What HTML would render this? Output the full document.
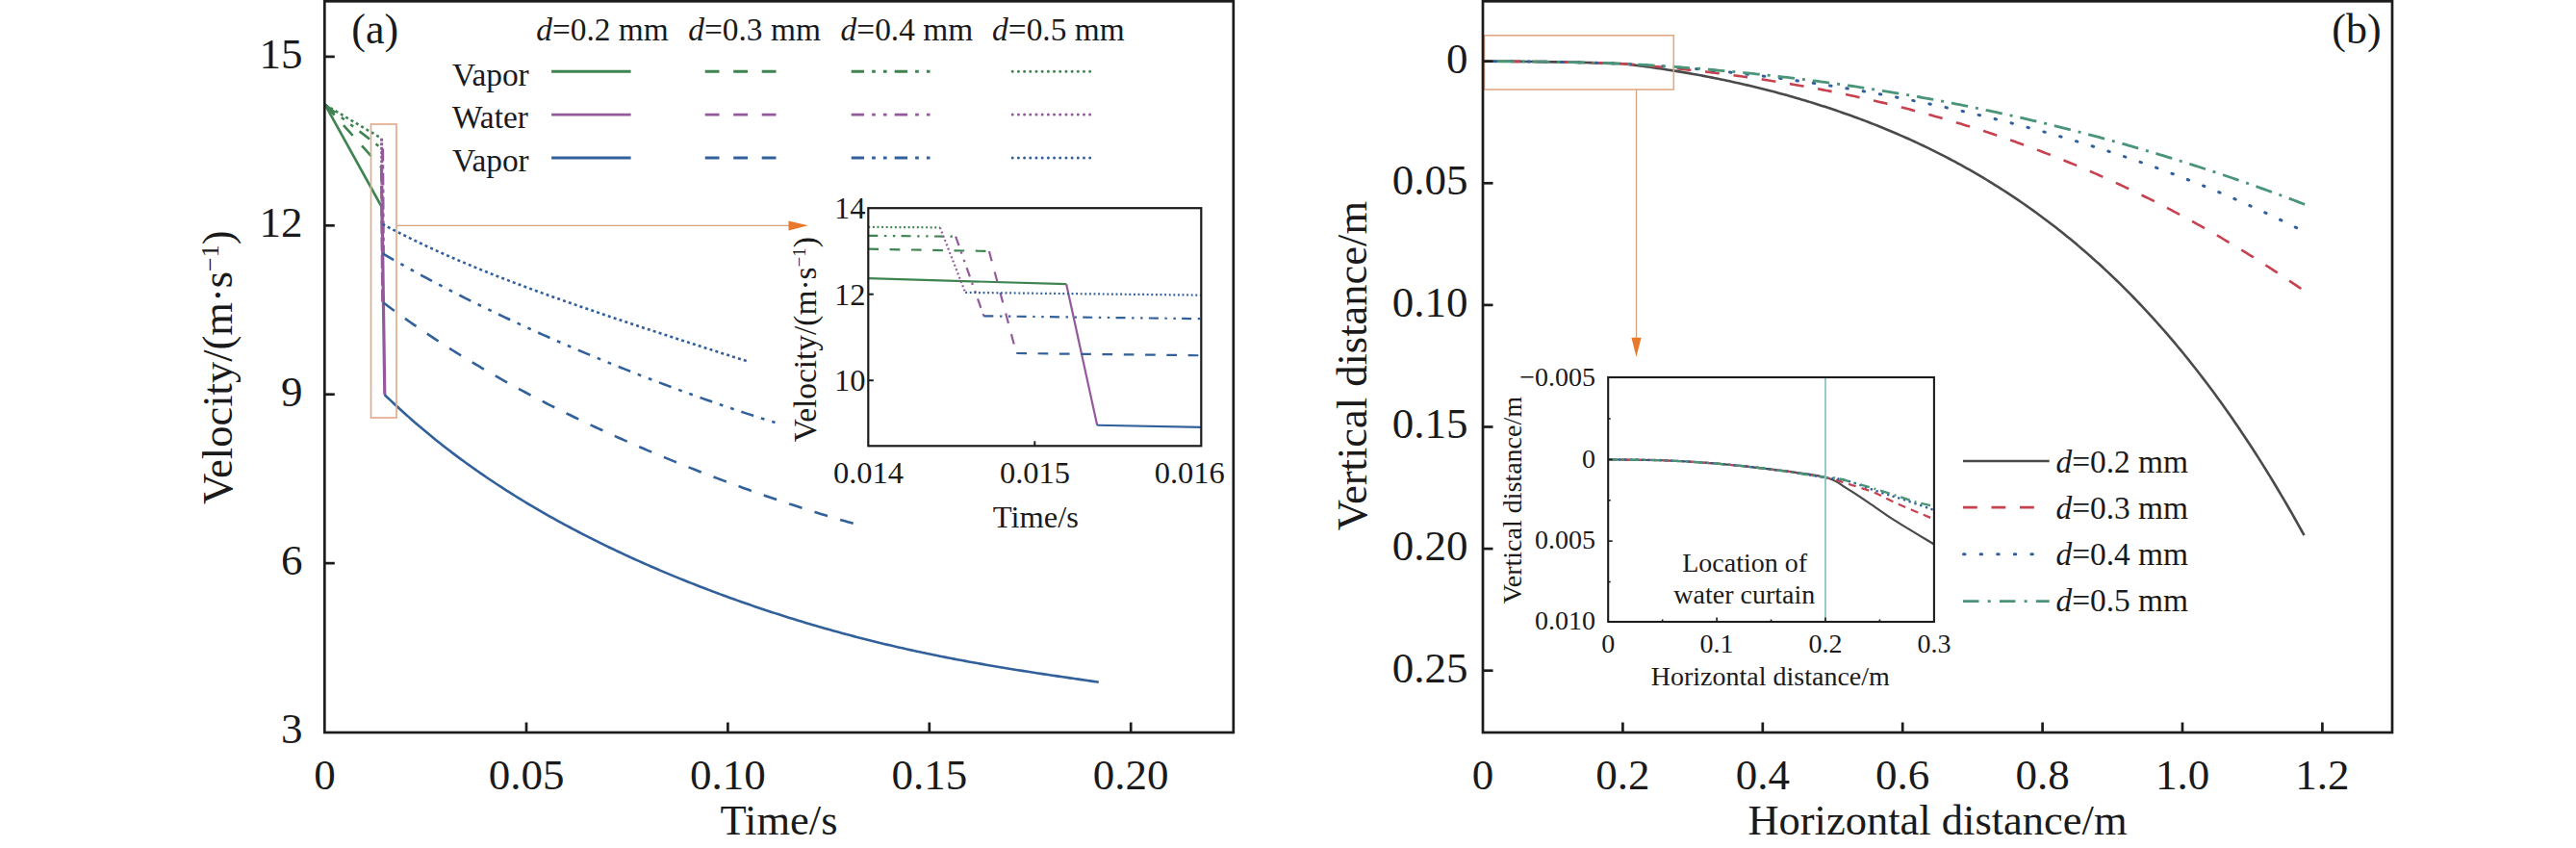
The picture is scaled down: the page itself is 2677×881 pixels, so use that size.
<!DOCTYPE html>
<html><head><meta charset="utf-8"><title>Figure</title>
<style>
html,body{margin:0;padding:0;background:#fff;}
body{width:2677px;height:881px;overflow:hidden;}
svg{display:block;}
svg text{font-family:'Liberation Serif','Times New Roman',serif;fill:#1a1a1a;}
</style></head><body>
<svg width="2677" height="881" viewBox="0 0 2677 881">
<rect width="2677" height="881" fill="#fff"/>
<path d="M337.9,108.9 L397,215.5" fill="none" stroke="#3f8450" stroke-width="2.6" stroke-linecap="butt" stroke-linejoin="round" />
<path d="M337.9,108.9 L397.2,174.8" fill="none" stroke="#3f8450" stroke-width="2.6" stroke-linecap="butt" stroke-linejoin="round" stroke-dasharray="14.5 14" />
<path d="M337.9,108.9 L397.2,154.6" fill="none" stroke="#3f8450" stroke-width="2.6" stroke-linecap="butt" stroke-linejoin="round" stroke-dasharray="13.3 8.1 3.7 8.1 3.7 8.1" />
<path d="M337.9,108.9 L396.6,143.8" fill="none" stroke="#3f8450" stroke-width="2.6" stroke-linecap="butt" stroke-linejoin="round" stroke-dasharray="3 3.2" />
<path d="M397,215.5 L399.8,409.7" fill="none" stroke="#93599b" stroke-width="3.2" stroke-linecap="butt" stroke-linejoin="round" />
<path d="M396.4,174.8 L397.6,313.5" fill="none" stroke="#93599b" stroke-width="3" stroke-linecap="butt" stroke-linejoin="round" stroke-dasharray="14 4" />
<path d="M397.6,154.6 L398.4,263.4" fill="none" stroke="#93599b" stroke-width="3" stroke-linecap="butt" stroke-linejoin="round" stroke-dasharray="13 4 4 4" />
<path d="M396.6,143.8 L397.2,232.8" fill="none" stroke="#93599b" stroke-width="3" stroke-linecap="butt" stroke-linejoin="round" stroke-dasharray="3 1.5" />
<path d="M399.8,409.7 L400.3,410.7 L403.3,413.58 L406.3,416.43 L409.31,419.25 L412.31,422.04 L415.31,424.79 L418.31,427.52 L421.31,430.22 L424.32,432.9 L427.32,435.54 L430.32,438.16 L433.32,440.75 L436.32,443.31 L439.33,445.85 L442.33,448.36 L445.33,450.84 L448.33,453.3 L451.33,455.74 L454.34,458.15 L457.34,460.53 L460.34,462.9 L463.34,465.24 L466.34,467.55 L469.35,469.85 L472.35,472.12 L475.35,474.37 L478.35,476.6 L481.35,478.81 L484.36,480.99 L487.36,483.16 L490.36,485.3 L493.36,487.43 L496.36,489.53 L499.37,491.62 L502.37,493.68 L505.37,495.73 L508.37,497.76 L511.37,499.77 L514.38,501.76 L517.38,503.74 L520.38,505.7 L523.38,507.64 L526.39,509.56 L529.39,511.47 L532.39,513.36 L535.39,515.23 L538.39,517.09 L541.4,518.93 L544.4,520.75 L547.4,522.56 L550.4,524.36 L553.4,526.14 L556.41,527.91 L559.41,529.66 L562.41,531.39 L565.41,533.12 L568.41,534.83 L571.42,536.52 L574.42,538.2 L577.42,539.87 L580.42,541.53 L583.42,543.17 L586.43,544.8 L589.43,546.41 L592.43,548.02 L595.43,549.61 L598.43,551.19 L601.44,552.76 L604.44,554.31 L607.44,555.86 L610.44,557.39 L613.44,558.91 L616.45,560.42 L619.45,561.92 L622.45,563.41 L625.45,564.89 L628.45,566.35 L631.46,567.81 L634.46,569.25 L637.46,570.69 L640.46,572.11 L643.46,573.53 L646.47,574.93 L649.47,576.33 L652.47,577.71 L655.47,579.09 L658.47,580.45 L661.48,581.81 L664.48,583.16 L667.48,584.5 L670.48,585.82 L673.48,587.14 L676.49,588.45 L679.49,589.75 L682.49,591.05 L685.49,592.33 L688.49,593.61 L691.5,594.87 L694.5,596.13 L697.5,597.38 L700.5,598.62 L703.5,599.85 L706.51,601.08 L709.51,602.29 L712.51,603.5 L715.51,604.7 L718.51,605.89 L721.52,607.07 L724.52,608.25 L727.52,609.42 L730.52,610.58 L733.52,611.73 L736.53,612.87 L739.53,614.01 L742.53,615.14 L745.53,616.26 L748.53,617.37 L751.54,618.48 L754.54,619.58 L757.54,620.67 L760.54,621.75 L763.54,622.83 L766.55,623.89 L769.55,624.96 L772.55,626.01 L775.55,627.06 L778.56,628.1 L781.56,629.13 L784.56,630.15 L787.56,631.17 L790.56,632.18 L793.57,633.19 L796.57,634.18 L799.57,635.17 L802.57,636.15 L805.57,637.13 L808.58,638.1 L811.58,639.06 L814.58,640.01 L817.58,640.96 L820.58,641.9 L823.59,642.84 L826.59,643.76 L829.59,644.68 L832.59,645.59 L835.59,646.5 L838.6,647.4 L841.6,648.29 L844.6,649.18 L847.6,650.06 L850.6,650.93 L853.61,651.79 L856.61,652.65 L859.61,653.5 L862.61,654.35 L865.61,655.19 L868.62,656.02 L871.62,656.84 L874.62,657.66 L877.62,658.47 L880.62,659.28 L883.63,660.08 L886.63,660.87 L889.63,661.65 L892.63,662.43 L895.63,663.2 L898.64,663.97 L901.64,664.73 L904.64,665.48 L907.64,666.23 L910.64,666.97 L913.65,667.7 L916.65,668.43 L919.65,669.15 L922.65,669.86 L925.65,670.57 L928.66,671.27 L931.66,671.97 L934.66,672.66 L937.66,673.34 L940.66,674.02 L943.67,674.69 L946.67,675.36 L949.67,676.02 L952.67,676.67 L955.67,677.32 L958.68,677.96 L961.68,678.59 L964.68,679.22 L967.68,679.85 L970.68,680.47 L973.69,681.08 L976.69,681.68 L979.69,682.29 L982.69,682.88 L985.69,683.47 L988.7,684.06 L991.7,684.64 L994.7,685.21 L997.7,685.78 L1000.7,686.34 L1003.71,686.9 L1006.71,687.45 L1009.71,688 L1012.71,688.55 L1015.71,689.09 L1018.72,689.62 L1021.72,690.15 L1024.72,690.67 L1027.72,691.19 L1030.73,691.71 L1033.73,692.22 L1036.73,692.73 L1039.73,693.23 L1042.73,693.73 L1045.74,694.23 L1048.74,694.72 L1051.74,695.2 L1054.74,695.69 L1057.74,696.17 L1060.75,696.65 L1063.75,697.12 L1066.75,697.59 L1069.75,698.06 L1072.75,698.52 L1075.76,698.98 L1078.76,699.44 L1081.76,699.9 L1084.76,700.35 L1087.76,700.8 L1090.77,701.25 L1093.77,701.7 L1096.77,702.14 L1099.77,702.59 L1102.77,703.03 L1105.78,703.47 L1108.78,703.91 L1111.78,704.35 L1114.78,704.78 L1117.78,705.22 L1120.79,705.66 L1123.79,706.09 L1126.79,706.53 L1129.79,706.96 L1132.79,707.4 L1135.8,707.84 L1138.8,708.27 L1141.8,708.71" fill="none" stroke="#31609a" stroke-width="2.6" stroke-linecap="butt" stroke-linejoin="round" />
<path d="M398.5,314.5 L401.52,316.76 L404.53,319 L407.55,321.23 L410.56,323.44 L413.58,325.63 L416.59,327.8 L419.61,329.96 L422.62,332.1 L425.64,334.22 L428.65,336.33 L431.67,338.42 L434.69,340.5 L437.7,342.55 L440.72,344.6 L443.73,346.63 L446.75,348.64 L449.76,350.64 L452.78,352.62 L455.79,354.59 L458.81,356.55 L461.82,358.49 L464.84,360.42 L467.85,362.33 L470.87,364.23 L473.89,366.11 L476.9,367.99 L479.92,369.85 L482.93,371.69 L485.95,373.53 L488.96,375.35 L491.98,377.16 L494.99,378.95 L498.01,380.74 L501.02,382.51 L504.04,384.27 L507.06,386.02 L510.07,387.75 L513.09,389.48 L516.1,391.19 L519.12,392.9 L522.13,394.59 L525.15,396.27 L528.16,397.94 L531.18,399.6 L534.19,401.25 L537.21,402.89 L540.23,404.52 L543.24,406.14 L546.26,407.75 L549.27,409.35 L552.29,410.94 L555.3,412.52 L558.32,414.09 L561.33,415.65 L564.35,417.21 L567.36,418.75 L570.38,420.29 L573.4,421.81 L576.41,423.33 L579.43,424.84 L582.44,426.34 L585.46,427.83 L588.47,429.31 L591.49,430.79 L594.5,432.25 L597.52,433.71 L600.53,435.16 L603.55,436.61 L606.56,438.04 L609.58,439.47 L612.6,440.89 L615.61,442.31 L618.63,443.71 L621.64,445.11 L624.66,446.5 L627.67,447.88 L630.69,449.26 L633.7,450.63 L636.72,451.99 L639.73,453.35 L642.75,454.7 L645.77,456.04 L648.78,457.38 L651.8,458.71 L654.81,460.03 L657.83,461.34 L660.84,462.65 L663.86,463.96 L666.87,465.25 L669.89,466.55 L672.9,467.83 L675.92,469.11 L678.94,470.38 L681.95,471.65 L684.97,472.91 L687.98,474.16 L691,475.41 L694.01,476.65 L697.03,477.89 L700.04,479.12 L703.06,480.34 L706.07,481.56 L709.09,482.77 L712.1,483.98 L715.12,485.18 L718.14,486.37 L721.15,487.56 L724.17,488.75 L727.18,489.93 L730.2,491.1 L733.21,492.27 L736.23,493.43 L739.24,494.58 L742.26,495.73 L745.27,496.88 L748.29,498.01 L751.31,499.15 L754.32,500.27 L757.34,501.4 L760.35,502.51 L763.37,503.62 L766.38,504.73 L769.4,505.83 L772.41,506.92 L775.43,508.01 L778.44,509.09 L781.46,510.16 L784.48,511.23 L787.49,512.3 L790.51,513.36 L793.52,514.41 L796.54,515.46 L799.55,516.5 L802.57,517.53 L805.58,518.56 L808.6,519.58 L811.61,520.6 L814.63,521.61 L817.65,522.61 L820.66,523.61 L823.68,524.6 L826.69,525.59 L829.71,526.57 L832.72,527.54 L835.74,528.51 L838.75,529.47 L841.77,530.42 L844.78,531.37 L847.8,532.31 L850.81,533.24 L853.83,534.17 L856.85,535.09 L859.86,536 L862.88,536.9 L865.89,537.8 L868.91,538.69 L871.92,539.58 L874.94,540.45 L877.95,541.32 L880.97,542.19 L883.98,543.04 L887,543.89" fill="none" stroke="#31609a" stroke-width="2.6" stroke-linecap="butt" stroke-linejoin="round" stroke-dasharray="14.14 13.65" />
<path d="M397.6,263.4 L400.62,265.15 L403.64,266.89 L406.66,268.63 L409.69,270.35 L412.71,272.06 L415.73,273.77 L418.75,275.46 L421.77,277.15 L424.79,278.82 L427.81,280.49 L430.84,282.15 L433.86,283.79 L436.88,285.43 L439.9,287.07 L442.92,288.69 L445.94,290.3 L448.97,291.91 L451.99,293.51 L455.01,295.1 L458.03,296.68 L461.05,298.25 L464.07,299.82 L467.09,301.37 L470.12,302.92 L473.14,304.47 L476.16,306 L479.18,307.53 L482.2,309.05 L485.22,310.56 L488.24,312.07 L491.27,313.57 L494.29,315.06 L497.31,316.54 L500.33,318.02 L503.35,319.49 L506.37,320.95 L509.39,322.41 L512.42,323.86 L515.44,325.31 L518.46,326.74 L521.48,328.17 L524.5,329.6 L527.52,331.02 L530.55,332.43 L533.57,333.83 L536.59,335.23 L539.61,336.63 L542.63,338.02 L545.65,339.4 L548.67,340.77 L551.7,342.14 L554.72,343.51 L557.74,344.87 L560.76,346.22 L563.78,347.57 L566.8,348.91 L569.82,350.25 L572.85,351.58 L575.87,352.9 L578.89,354.22 L581.91,355.54 L584.93,356.85 L587.95,358.15 L590.97,359.45 L594,360.74 L597.02,362.03 L600.04,363.31 L603.06,364.59 L606.08,365.86 L609.1,367.13 L612.13,368.39 L615.15,369.65 L618.17,370.9 L621.19,372.15 L624.21,373.4 L627.23,374.63 L630.25,375.87 L633.28,377.1 L636.3,378.32 L639.32,379.54 L642.34,380.75 L645.36,381.96 L648.38,383.16 L651.4,384.36 L654.43,385.56 L657.45,386.75 L660.47,387.93 L663.49,389.11 L666.51,390.29 L669.53,391.46 L672.55,392.63 L675.58,393.79 L678.6,394.94 L681.62,396.09 L684.64,397.24 L687.66,398.38 L690.68,399.52 L693.71,400.65 L696.73,401.78 L699.75,402.91 L702.77,404.02 L705.79,405.14 L708.81,406.25 L711.83,407.35 L714.86,408.45 L717.88,409.54 L720.9,410.63 L723.92,411.72 L726.94,412.8 L729.96,413.87 L732.98,414.94 L736.01,416.01 L739.03,417.06 L742.05,418.12 L745.07,419.17 L748.09,420.21 L751.11,421.25 L754.13,422.29 L757.16,423.31 L760.18,424.34 L763.2,425.36 L766.22,426.37 L769.24,427.38 L772.26,428.38 L775.29,429.38 L778.31,430.37 L781.33,431.35 L784.35,432.33 L787.37,433.31 L790.39,434.28 L793.41,435.24 L796.44,436.2 L799.46,437.15 L802.48,438.09 L805.5,439.03" fill="none" stroke="#31609a" stroke-width="2.6" stroke-linecap="butt" stroke-linejoin="round" stroke-dasharray="13.4 8.16 3.73 8.16 3.73 8.16" />
<path d="M397.4,232.8 L400.4,234.4 L403.41,235.99 L406.41,237.56 L409.41,239.12 L412.42,240.66 L415.42,242.19 L418.42,243.7 L421.43,245.2 L424.43,246.69 L427.43,248.16 L430.43,249.62 L433.44,251.07 L436.44,252.5 L439.44,253.92 L442.45,255.33 L445.45,256.73 L448.45,258.11 L451.46,259.48 L454.46,260.85 L457.46,262.2 L460.47,263.54 L463.47,264.87 L466.47,266.19 L469.48,267.5 L472.48,268.8 L475.48,270.09 L478.49,271.37 L481.49,272.64 L484.49,273.9 L487.5,275.15 L490.5,276.4 L493.5,277.63 L496.5,278.86 L499.51,280.08 L502.51,281.29 L505.51,282.49 L508.52,283.69 L511.52,284.88 L514.52,286.06 L517.53,287.24 L520.53,288.4 L523.53,289.57 L526.54,290.72 L529.54,291.87 L532.54,293.01 L535.55,294.15 L538.55,295.28 L541.55,296.4 L544.56,297.52 L547.56,298.64 L550.56,299.75 L553.57,300.85 L556.57,301.95 L559.57,303.04 L562.57,304.13 L565.58,305.22 L568.58,306.3 L571.58,307.37 L574.59,308.44 L577.59,309.51 L580.59,310.58 L583.6,311.64 L586.6,312.69 L589.6,313.75 L592.61,314.79 L595.61,315.84 L598.61,316.88 L601.62,317.92 L604.62,318.96 L607.62,319.99 L610.63,321.03 L613.63,322.05 L616.63,323.08 L619.63,324.1 L622.64,325.12 L625.64,326.14 L628.64,327.16 L631.65,328.17 L634.65,329.18 L637.65,330.19 L640.66,331.2 L643.66,332.21 L646.66,333.21 L649.67,334.21 L652.67,335.21 L655.67,336.21 L658.68,337.21 L661.68,338.2 L664.68,339.2 L667.69,340.19 L670.69,341.18 L673.69,342.17 L676.7,343.15 L679.7,344.14 L682.7,345.13 L685.7,346.11 L688.71,347.09 L691.71,348.07 L694.71,349.05 L697.72,350.03 L700.72,351.01 L703.72,351.98 L706.73,352.96 L709.73,353.93 L712.73,354.91 L715.74,355.88 L718.74,356.85 L721.74,357.82 L724.75,358.78 L727.75,359.75 L730.75,360.72 L733.76,361.68 L736.76,362.64 L739.76,363.6 L742.77,364.56 L745.77,365.52 L748.77,366.48 L751.77,367.44 L754.78,368.39 L757.78,369.35 L760.78,370.3 L763.79,371.25 L766.79,372.2 L769.79,373.15 L772.8,374.09 L775.8,375.04" fill="none" stroke="#31609a" stroke-width="2.6" stroke-linecap="butt" stroke-linejoin="round" stroke-dasharray="2.99 3.19" />
<rect x="385.5" y="129" width="26.5" height="305" fill="none" stroke="#e2a987" stroke-width="1.6"/>
<line x1="412" y1="234.4" x2="822" y2="234.4" stroke="#d6a384" stroke-width="1.3" />
<polygon points="819.5,229.4 839.8,234.3 819.5,239.6" fill="#e8792b"/>
<rect x="337.3" y="1.3" width="944.5" height="759.7" fill="none" stroke="#1c1c1c" stroke-width="2.7"/>
<text x="337.6" y="820.2" font-size="45" text-anchor="middle" >0</text>
<line x1="547" y1="761" x2="547" y2="750.5" stroke="#1c1c1c" stroke-width="2.7" />
<text x="547" y="820.2" font-size="45" text-anchor="middle" >0.05</text>
<line x1="756.4" y1="761" x2="756.4" y2="750.5" stroke="#1c1c1c" stroke-width="2.7" />
<text x="756.4" y="820.2" font-size="45" text-anchor="middle" >0.10</text>
<line x1="965.8" y1="761" x2="965.8" y2="750.5" stroke="#1c1c1c" stroke-width="2.7" />
<text x="965.8" y="820.2" font-size="45" text-anchor="middle" >0.15</text>
<line x1="1175.2" y1="761" x2="1175.2" y2="750.5" stroke="#1c1c1c" stroke-width="2.7" />
<text x="1175.2" y="820.2" font-size="45" text-anchor="middle" >0.20</text>
<text x="314.5" y="772.44" font-size="45" text-anchor="end" >3</text>
<line x1="337.3" y1="585.13" x2="347.8" y2="585.13" stroke="#1c1c1c" stroke-width="2.7" />
<text x="314.5" y="597.03" font-size="45" text-anchor="end" >6</text>
<line x1="337.3" y1="409.72" x2="347.8" y2="409.72" stroke="#1c1c1c" stroke-width="2.7" />
<text x="314.5" y="421.62" font-size="45" text-anchor="end" >9</text>
<line x1="337.3" y1="234.31" x2="347.8" y2="234.31" stroke="#1c1c1c" stroke-width="2.7" />
<text x="314.5" y="246.21" font-size="45" text-anchor="end" >12</text>
<line x1="337.3" y1="58.9" x2="347.8" y2="58.9" stroke="#1c1c1c" stroke-width="2.7" />
<text x="314.5" y="70.8" font-size="45" text-anchor="end" >15</text>
<text x="809.5" y="867.3" font-size="44.5" text-anchor="middle" >Time/s</text>
<text transform="translate(241.1,381.75) rotate(-90)" font-size="44.5" text-anchor="middle">Velocity/(m·s<tspan font-size="26" dy="-14.6">−1</tspan><tspan dy="14.6">)</tspan></text>
<text x="389.7" y="44.5" font-size="44" text-anchor="middle" >(a)</text>
<text x="557.2" y="41.8" font-size="33.4"><tspan font-style="italic">d</tspan>=0.2 mm</text>
<text x="715.3" y="41.8" font-size="33.4"><tspan font-style="italic">d</tspan>=0.3 mm</text>
<text x="873.6" y="41.8" font-size="33.4"><tspan font-style="italic">d</tspan>=0.4 mm</text>
<text x="1031.1" y="41.8" font-size="33.4"><tspan font-style="italic">d</tspan>=0.5 mm</text>
<text x="470" y="89" font-size="33.4" text-anchor="start" >Vapor</text>
<line x1="573.1" y1="74.2" x2="655.6" y2="74.2" stroke="#3f8450" stroke-width="2.9" />
<path d="M732.7,74.2 L806.7,74.2" fill="none" stroke="#3f8450" stroke-width="2.9" stroke-linecap="butt" stroke-linejoin="round" stroke-dasharray="14.8 14.7" />
<path d="M884.7,74.2 L966.5,74.2" fill="none" stroke="#3f8450" stroke-width="2.9" stroke-linecap="butt" stroke-linejoin="round" stroke-dasharray="13.3 8.1 3.7 8.1 3.7 8.1" />
<path d="M1052.2,74.2 L1134,74.2" fill="none" stroke="#3f8450" stroke-width="3" stroke-linecap="round" stroke-linejoin="round" stroke-dasharray="0.01 6.18" />
<text x="470" y="133.1" font-size="33.4" text-anchor="start" >Water</text>
<line x1="573.1" y1="119.1" x2="655.6" y2="119.1" stroke="#93599b" stroke-width="2.9" />
<path d="M732.7,119.1 L806.7,119.1" fill="none" stroke="#93599b" stroke-width="2.9" stroke-linecap="butt" stroke-linejoin="round" stroke-dasharray="14.8 14.7" />
<path d="M884.7,119.1 L966.5,119.1" fill="none" stroke="#93599b" stroke-width="2.9" stroke-linecap="butt" stroke-linejoin="round" stroke-dasharray="13.3 8.1 3.7 8.1 3.7 8.1" />
<path d="M1052.2,119.1 L1134,119.1" fill="none" stroke="#93599b" stroke-width="3" stroke-linecap="round" stroke-linejoin="round" stroke-dasharray="0.01 6.18" />
<text x="470" y="177.7" font-size="33.4" text-anchor="start" >Vapor</text>
<line x1="573.1" y1="164" x2="655.6" y2="164" stroke="#31609a" stroke-width="2.9" />
<path d="M732.7,164 L806.7,164" fill="none" stroke="#31609a" stroke-width="2.9" stroke-linecap="butt" stroke-linejoin="round" stroke-dasharray="14.8 14.7" />
<path d="M884.7,164 L966.5,164" fill="none" stroke="#31609a" stroke-width="2.9" stroke-linecap="butt" stroke-linejoin="round" stroke-dasharray="13.3 8.1 3.7 8.1 3.7 8.1" />
<path d="M1052.2,164 L1134,164" fill="none" stroke="#31609a" stroke-width="3" stroke-linecap="round" stroke-linejoin="round" stroke-dasharray="0.01 6.18" />
<rect x="902.3" y="216.2" width="346" height="247.1" fill="#fff" stroke="none"/>
<clipPath id="ci"><rect x="902.3" y="216.2" width="346" height="247.1"/></clipPath>
<g clip-path="url(#ci)">
<path d="M902.3,289.14 L1108.17,295.18" fill="none" stroke="#3f8450" stroke-width="2.2" stroke-linecap="butt" stroke-linejoin="round" />
<path d="M1108.17,295.18 L1140.17,441.74" fill="none" stroke="#93599b" stroke-width="2.2" stroke-linecap="butt" stroke-linejoin="round" />
<path d="M1140.17,441.74 L1265.6,444.2" fill="none" stroke="#31609a" stroke-width="2.2" stroke-linecap="butt" stroke-linejoin="round" />
<path d="M902.3,258.71 L1027.9,260.95" fill="none" stroke="#3f8450" stroke-width="2.2" stroke-linecap="butt" stroke-linejoin="round" stroke-dasharray="10.7 11.6" />
<path d="M1027.9,260.95 L1056.27,367.01" fill="none" stroke="#93599b" stroke-width="2.2" stroke-linecap="butt" stroke-linejoin="round" stroke-dasharray="10.7 11.6" />
<path d="M1056.27,367.01 L1265.6,369.47" fill="none" stroke="#31609a" stroke-width="2.2" stroke-linecap="butt" stroke-linejoin="round" stroke-dasharray="10.7 11.6" />
<path d="M902.3,244.84 L993.12,245.73" fill="none" stroke="#3f8450" stroke-width="2.2" stroke-linecap="butt" stroke-linejoin="round" stroke-dasharray="10 6.6 2.4 6.6 2.4 6.3" />
<path d="M993.12,245.73 L1022.36,328.3" fill="none" stroke="#93599b" stroke-width="2.2" stroke-linecap="butt" stroke-linejoin="round" stroke-dasharray="10 6.6 2.4 6.6 2.4 6.3" />
<path d="M1022.36,328.3 L1265.6,331.43" fill="none" stroke="#31609a" stroke-width="2.2" stroke-linecap="butt" stroke-linejoin="round" stroke-dasharray="10 6.6 2.4 6.6 2.4 6.3" />
<path d="M902.3,235.89 L976.86,236.34" fill="none" stroke="#3f8450" stroke-width="2.2" stroke-linecap="butt" stroke-linejoin="round" stroke-dasharray="1.9 2.7" />
<path d="M976.86,236.34 L1003.16,303.91" fill="none" stroke="#93599b" stroke-width="2.2" stroke-linecap="butt" stroke-linejoin="round" stroke-dasharray="1.9 2.7" />
<path d="M1003.16,303.91 L1265.6,306.82" fill="none" stroke="#31609a" stroke-width="2.2" stroke-linecap="butt" stroke-linejoin="round" stroke-dasharray="1.9 2.7" />
</g>
<rect x="902.3" y="216.2" width="346" height="247.1" fill="none" stroke="#1c1c1c" stroke-width="2.2"/>
<line x1="1075.3" y1="463.3" x2="1075.3" y2="458.3" stroke="#1c1c1c" stroke-width="2" />
<line x1="902.3" y1="305.7" x2="907.8" y2="305.7" stroke="#1c1c1c" stroke-width="2" />
<line x1="902.3" y1="395.2" x2="907.8" y2="395.2" stroke="#1c1c1c" stroke-width="2" />
<text x="899.5" y="227" font-size="32.5" text-anchor="end" >14</text>
<text x="899.5" y="316.5" font-size="32.5" text-anchor="end" >12</text>
<text x="899.5" y="406" font-size="32.5" text-anchor="end" >10</text>
<text x="902.5" y="501.6" font-size="32.5" text-anchor="middle" >0.014</text>
<text x="1075.5" y="501.6" font-size="32.5" text-anchor="middle" >0.015</text>
<text x="1236.3" y="501.6" font-size="32.5" text-anchor="middle" >0.016</text>
<text x="1076.3" y="547.6" font-size="32.5" text-anchor="middle" >Time/s</text>
<text transform="translate(848.3,352.7) rotate(-90)" font-size="33.4" text-anchor="middle">Velocity/(m·s<tspan font-size="19" dy="-11.7">−1</tspan><tspan dy="11.7">)</tspan></text>
<path d="M1541,63.7 L1545.85,63.7 L1550.69,63.71 L1555.54,63.73 L1560.39,63.74 L1565.23,63.77 L1570.08,63.8 L1574.93,63.84 L1579.77,63.88 L1584.62,63.93 L1589.47,63.98 L1594.31,64.04 L1599.16,64.1 L1604.01,64.17 L1608.85,64.24 L1613.7,64.33 L1618.55,64.41 L1623.39,64.5 L1628.24,64.6 L1633.09,64.7 L1637.93,64.81 L1642.78,64.92 L1647.63,65.04 L1652.47,65.17 L1657.32,65.3 L1662.17,65.44 L1667.01,65.58 L1671.86,65.73 L1676.71,65.88 L1681.55,66.04 L1686.3,66.2 L1689.3,66.54 L1692.3,66.9 L1695.3,67.26 L1698.3,67.62 L1701.3,68 L1704.31,68.38 L1707.31,68.78 L1710.31,69.18 L1713.31,69.58 L1716.31,70 L1719.31,70.42 L1722.31,70.86 L1725.31,71.3 L1728.31,71.75 L1731.31,72.2 L1734.31,72.67 L1737.31,73.14 L1740.32,73.62 L1743.32,74.11 L1746.32,74.61 L1749.32,75.12 L1752.32,75.63 L1755.32,76.15 L1758.32,76.68 L1761.32,77.22 L1764.32,77.77 L1767.32,78.33 L1770.32,78.89 L1773.32,79.46 L1776.33,80.04 L1779.33,80.63 L1782.33,81.23 L1785.33,81.84 L1788.33,82.45 L1791.33,83.08 L1794.33,83.71 L1797.33,84.35 L1800.33,85 L1803.33,85.66 L1806.33,86.33 L1809.33,87.01 L1812.34,87.7 L1815.34,88.39 L1818.34,89.1 L1821.34,89.81 L1824.34,90.53 L1827.34,91.27 L1830.34,92.01 L1833.34,92.76 L1836.34,93.52 L1839.34,94.29 L1842.34,95.07 L1845.34,95.86 L1848.35,96.66 L1851.35,97.47 L1854.35,98.29 L1857.35,99.12 L1860.35,99.96 L1863.35,100.81 L1866.35,101.67 L1869.35,102.54 L1872.35,103.42 L1875.35,104.31 L1878.35,105.21 L1881.36,106.13 L1884.36,107.05 L1887.36,107.99 L1890.36,108.93 L1893.36,109.89 L1896.36,110.86 L1899.36,111.84 L1902.36,112.83 L1905.36,113.83 L1908.36,114.84 L1911.36,115.87 L1914.36,116.91 L1917.37,117.96 L1920.37,119.02 L1923.37,120.09 L1926.37,121.18 L1929.37,122.28 L1932.37,123.39 L1935.37,124.51 L1938.37,125.65 L1941.37,126.8 L1944.37,127.96 L1947.37,129.13 L1950.37,130.32 L1953.38,131.52 L1956.38,132.74 L1959.38,133.97 L1962.38,135.21 L1965.38,136.47 L1968.38,137.74 L1971.38,139.03 L1974.38,140.33 L1977.38,141.64 L1980.38,142.97 L1983.38,144.31 L1986.38,145.67 L1989.39,147.04 L1992.39,148.43 L1995.39,149.84 L1998.39,151.26 L2001.39,152.69 L2004.39,154.14 L2007.39,155.61 L2010.39,157.09 L2013.39,158.59 L2016.39,160.11 L2019.39,161.64 L2022.39,163.19 L2025.4,164.76 L2028.4,166.34 L2031.4,167.94 L2034.4,169.56 L2037.4,171.2 L2040.4,172.85 L2043.4,174.53 L2046.4,176.22 L2049.4,177.93 L2052.4,179.65 L2055.4,181.4 L2058.41,183.16 L2061.41,184.95 L2064.41,186.75 L2067.41,188.57 L2070.41,190.42 L2073.41,192.28 L2076.41,194.16 L2079.41,196.06 L2082.41,197.99 L2085.41,199.93 L2088.41,201.9 L2091.41,203.88 L2094.42,205.89 L2097.42,207.92 L2100.42,209.97 L2103.42,212.04 L2106.42,214.14 L2109.42,216.25 L2112.42,218.39 L2115.42,220.55 L2118.42,222.74 L2121.42,224.95 L2124.42,227.18 L2127.42,229.43 L2130.43,231.71 L2133.43,234.02 L2136.43,236.34 L2139.43,238.7 L2142.43,241.07 L2145.43,243.47 L2148.43,245.9 L2151.43,248.35 L2154.43,250.83 L2157.43,253.34 L2160.43,255.87 L2163.43,258.42 L2166.44,261.01 L2169.44,263.62 L2172.44,266.25 L2175.44,268.92 L2178.44,271.61 L2181.44,274.33 L2184.44,277.08 L2187.44,279.86 L2190.44,282.66 L2193.44,285.5 L2196.44,288.36 L2199.44,291.25 L2202.45,294.18 L2205.45,297.13 L2208.45,300.11 L2211.45,303.13 L2214.45,306.17 L2217.45,309.25 L2220.45,312.35 L2223.45,315.49 L2226.45,318.66 L2229.45,321.86 L2232.45,325.1 L2235.46,328.36 L2238.46,331.66 L2241.46,335 L2244.46,338.36 L2247.46,341.76 L2250.46,345.2 L2253.46,348.67 L2256.46,352.17 L2259.46,355.71 L2262.46,359.28 L2265.46,362.89 L2268.46,366.54 L2271.47,370.22 L2274.47,373.94 L2277.47,377.69 L2280.47,381.49 L2283.47,385.31 L2286.47,389.18 L2289.47,393.09 L2292.47,397.03 L2295.47,401.01 L2298.47,405.03 L2301.47,409.09 L2304.47,413.19 L2307.48,417.33 L2310.48,421.51 L2313.48,425.73 L2316.48,429.99 L2319.48,434.29 L2322.48,438.64 L2325.48,443.02 L2328.48,447.45 L2331.48,451.92 L2334.48,456.43 L2337.48,460.98 L2340.48,465.58 L2343.49,470.23 L2346.49,474.91 L2349.49,479.64 L2352.49,484.42 L2355.49,489.24 L2358.49,494.11 L2361.49,499.02 L2364.49,503.98 L2367.49,508.99 L2370.49,514.04 L2373.49,519.14 L2376.49,524.28 L2379.5,529.48 L2382.5,534.72 L2385.5,540.01 L2388.5,545.36 L2391.5,550.75 L2394.5,556.19" fill="none" stroke="#4a4a4a" stroke-width="2.6" stroke-linecap="butt" stroke-linejoin="round" />
<path d="M1541,63.7 L1545.85,63.7 L1550.69,63.71 L1555.54,63.73 L1560.39,63.74 L1565.23,63.77 L1570.08,63.8 L1574.93,63.84 L1579.77,63.88 L1584.62,63.93 L1589.47,63.98 L1594.31,64.04 L1599.16,64.1 L1604.01,64.17 L1608.85,64.24 L1613.7,64.33 L1618.55,64.41 L1623.39,64.5 L1628.24,64.6 L1633.09,64.7 L1637.93,64.81 L1642.78,64.92 L1647.63,65.04 L1652.47,65.17 L1657.32,65.3 L1662.17,65.44 L1667.01,65.58 L1671.86,65.73 L1676.71,65.88 L1681.55,66.04 L1686.3,66.2 L1689.3,66.43 L1692.3,66.67 L1695.3,66.91 L1698.3,67.15 L1701.3,67.4 L1704.3,67.65 L1707.3,67.91 L1710.3,68.17 L1713.3,68.44 L1716.3,68.7 L1719.3,68.98 L1722.3,69.25 L1725.3,69.54 L1728.3,69.82 L1731.3,70.11 L1734.3,70.41 L1737.3,70.7 L1740.3,71.01 L1743.3,71.32 L1746.3,71.63 L1749.3,71.94 L1752.3,72.26 L1755.3,72.59 L1758.3,72.92 L1761.3,73.26 L1764.3,73.6 L1767.3,73.94 L1770.3,74.29 L1773.3,74.64 L1776.3,75 L1779.3,75.37 L1782.3,75.73 L1785.3,76.11 L1788.3,76.49 L1791.3,76.87 L1794.3,77.26 L1797.3,77.65 L1800.3,78.05 L1803.3,78.45 L1806.3,78.86 L1809.3,79.28 L1812.3,79.7 L1815.3,80.12 L1818.3,80.55 L1821.3,80.98 L1824.3,81.43 L1827.3,81.87 L1830.3,82.32 L1833.3,82.78 L1836.3,83.24 L1839.3,83.71 L1842.3,84.18 L1845.3,84.66 L1848.3,85.15 L1851.3,85.64 L1854.3,86.13 L1857.3,86.64 L1860.3,87.14 L1863.3,87.66 L1866.3,88.18 L1869.3,88.7 L1872.3,89.23 L1875.3,89.77 L1878.3,90.31 L1881.3,90.86 L1884.3,91.42 L1887.3,91.98 L1890.3,92.55 L1893.3,93.12 L1896.3,93.7 L1899.3,94.28 L1902.3,94.88 L1905.3,95.47 L1908.3,96.08 L1911.3,96.69 L1914.3,97.31 L1917.3,97.93 L1920.3,98.56 L1923.3,99.2 L1926.3,99.84 L1929.3,100.49 L1932.3,101.15 L1935.3,101.81 L1938.3,102.48 L1941.3,103.16 L1944.3,103.84 L1947.3,104.53 L1950.3,105.23 L1953.3,105.93 L1956.3,106.64 L1959.3,107.36 L1962.3,108.08 L1965.3,108.82 L1968.3,109.55 L1971.3,110.3 L1974.3,111.05 L1977.3,111.81 L1980.3,112.58 L1983.3,113.35 L1986.3,114.13 L1989.3,114.92 L1992.3,115.72 L1995.3,116.52 L1998.3,117.33 L2001.3,118.15 L2004.3,118.97 L2007.3,119.81 L2010.3,120.65 L2013.3,121.49 L2016.3,122.35 L2019.3,123.21 L2022.3,124.08 L2025.3,124.96 L2028.3,125.84 L2031.3,126.74 L2034.3,127.64 L2037.3,128.55 L2040.3,129.46 L2043.3,130.39 L2046.3,131.32 L2049.3,132.26 L2052.3,133.21 L2055.3,134.16 L2058.3,135.13 L2061.3,136.1 L2064.3,137.08 L2067.3,138.07 L2070.3,139.07 L2073.3,140.07 L2076.3,141.08 L2079.3,142.11 L2082.3,143.14 L2085.3,144.17 L2088.3,145.22 L2091.3,146.27 L2094.3,147.34 L2097.3,148.41 L2100.3,149.49 L2103.3,150.58 L2106.3,151.68 L2109.3,152.78 L2112.3,153.9 L2115.3,155.02 L2118.3,156.15 L2121.3,157.29 L2124.3,158.44 L2127.3,159.6 L2130.3,160.77 L2133.3,161.94 L2136.3,163.13 L2139.3,164.32 L2142.3,165.52 L2145.3,166.73 L2148.3,167.95 L2151.3,169.18 L2154.3,170.42 L2157.3,171.67 L2160.3,172.93 L2163.3,174.2 L2166.3,175.47 L2169.3,176.76 L2172.3,178.05 L2175.3,179.35 L2178.3,180.67 L2181.3,181.99 L2184.3,183.32 L2187.3,184.66 L2190.3,186.01 L2193.3,187.37 L2196.3,188.74 L2199.3,190.12 L2202.3,191.51 L2205.3,192.91 L2208.3,194.32 L2211.3,195.74 L2214.3,197.17 L2217.3,198.61 L2220.3,200.05 L2223.3,201.51 L2226.3,202.98 L2229.3,204.46 L2232.3,205.94 L2235.3,207.44 L2238.3,208.95 L2241.3,210.47 L2244.3,212 L2247.3,213.53 L2250.3,215.08 L2253.3,216.64 L2256.3,218.21 L2259.3,219.79 L2262.3,221.38 L2265.3,222.98 L2268.3,224.59 L2271.3,226.21 L2274.3,227.84 L2277.3,229.48 L2280.3,231.14 L2283.3,232.8 L2286.3,234.47 L2289.3,236.16 L2292.3,237.85 L2295.3,239.56 L2298.3,241.27 L2301.3,243 L2304.3,244.74 L2307.3,246.49 L2310.3,248.25 L2313.3,250.02 L2316.3,251.8 L2319.3,253.59 L2322.3,255.39 L2325.3,257.21 L2328.3,259.03 L2331.3,260.87 L2334.3,262.72 L2337.3,264.58 L2340.3,266.45 L2343.3,268.33 L2346.3,270.22 L2349.3,272.13 L2352.3,274.04 L2355.3,275.97 L2358.3,277.91 L2361.3,279.86 L2364.3,281.82 L2367.3,283.79 L2370.3,285.78 L2373.3,287.77 L2376.3,289.78 L2379.3,291.8 L2382.3,293.83 L2385.3,295.87 L2388.3,297.93 L2391.3,299.99" fill="none" stroke="#c8414f" stroke-width="2.6" stroke-linecap="butt" stroke-linejoin="round" stroke-dasharray="14.8 14.8" stroke-dashoffset="5.32"/>
<path d="M1541,63.7 L1545.85,63.7 L1550.69,63.71 L1555.54,63.73 L1560.39,63.74 L1565.23,63.77 L1570.08,63.8 L1574.93,63.84 L1579.77,63.88 L1584.62,63.93 L1589.47,63.98 L1594.31,64.04 L1599.16,64.1 L1604.01,64.17 L1608.85,64.24 L1613.7,64.33 L1618.55,64.41 L1623.39,64.5 L1628.24,64.6 L1633.09,64.7 L1637.93,64.81 L1642.78,64.92 L1647.63,65.04 L1652.47,65.17 L1657.32,65.3 L1662.17,65.44 L1667.01,65.58 L1671.86,65.73 L1676.71,65.88 L1681.55,66.04 L1686.3,66.2 L1689.31,66.35 L1692.31,66.51 L1695.32,66.68 L1698.32,66.85 L1701.33,67.02 L1704.33,67.2 L1707.34,67.39 L1710.34,67.57 L1713.35,67.77 L1716.36,67.97 L1719.36,68.17 L1722.37,68.38 L1725.37,68.59 L1728.38,68.81 L1731.38,69.03 L1734.39,69.26 L1737.39,69.49 L1740.4,69.72 L1743.41,69.97 L1746.41,70.21 L1749.42,70.46 L1752.42,70.72 L1755.43,70.97 L1758.43,71.24 L1761.44,71.51 L1764.45,71.78 L1767.45,72.06 L1770.46,72.34 L1773.46,72.63 L1776.47,72.92 L1779.47,73.21 L1782.48,73.51 L1785.48,73.82 L1788.49,74.12 L1791.5,74.44 L1794.5,74.76 L1797.51,75.08 L1800.51,75.4 L1803.52,75.74 L1806.52,76.07 L1809.53,76.41 L1812.53,76.76 L1815.54,77.1 L1818.55,77.46 L1821.55,77.81 L1824.56,78.18 L1827.56,78.54 L1830.57,78.91 L1833.57,79.29 L1836.58,79.67 L1839.58,80.05 L1842.59,80.44 L1845.6,80.83 L1848.6,81.23 L1851.61,81.63 L1854.61,82.03 L1857.62,82.44 L1860.62,82.86 L1863.63,83.28 L1866.63,83.7 L1869.64,84.13 L1872.65,84.56 L1875.65,85 L1878.66,85.44 L1881.66,85.88 L1884.67,86.33 L1887.67,86.78 L1890.68,87.24 L1893.68,87.7 L1896.69,88.17 L1899.7,88.64 L1902.7,89.12 L1905.71,89.59 L1908.71,90.08 L1911.72,90.57 L1914.72,91.06 L1917.73,91.56 L1920.74,92.06 L1923.74,92.57 L1926.75,93.08 L1929.75,93.59 L1932.76,94.11 L1935.76,94.63 L1938.77,95.16 L1941.77,95.7 L1944.78,96.23 L1947.79,96.78 L1950.79,97.32 L1953.8,97.87 L1956.8,98.43 L1959.81,98.99 L1962.81,99.55 L1965.82,100.12 L1968.82,100.7 L1971.83,101.27 L1974.84,101.86 L1977.84,102.44 L1980.85,103.04 L1983.85,103.63 L1986.86,104.23 L1989.86,104.84 L1992.87,105.45 L1995.87,106.07 L1998.88,106.69 L2001.89,107.31 L2004.89,107.94 L2007.9,108.58 L2010.9,109.22 L2013.91,109.86 L2016.91,110.51 L2019.92,111.16 L2022.92,111.82 L2025.93,112.49 L2028.94,113.15 L2031.94,113.83 L2034.95,114.51 L2037.95,115.19 L2040.96,115.88 L2043.96,116.57 L2046.97,117.27 L2049.98,117.97 L2052.98,118.68 L2055.99,119.39 L2058.99,120.11 L2062,120.84 L2065,121.57 L2068.01,122.3 L2071.01,123.04 L2074.02,123.79 L2077.03,124.54 L2080.03,125.29 L2083.04,126.05 L2086.04,126.82 L2089.05,127.59 L2092.05,128.37 L2095.06,129.15 L2098.06,129.94 L2101.07,130.73 L2104.08,131.53 L2107.08,132.33 L2110.09,133.14 L2113.09,133.96 L2116.1,134.78 L2119.1,135.61 L2122.11,136.44 L2125.11,137.28 L2128.12,138.12 L2131.13,138.97 L2134.13,139.83 L2137.14,140.69 L2140.14,141.56 L2143.15,142.43 L2146.15,143.31 L2149.16,144.19 L2152.16,145.09 L2155.17,145.98 L2158.18,146.89 L2161.18,147.8 L2164.19,148.71 L2167.19,149.64 L2170.2,150.56 L2173.2,151.5 L2176.21,152.44 L2179.22,153.39 L2182.22,154.34 L2185.23,155.3 L2188.23,156.27 L2191.24,157.24 L2194.24,158.22 L2197.25,159.21 L2200.25,160.2 L2203.26,161.2 L2206.27,162.21 L2209.27,163.22 L2212.28,164.24 L2215.28,165.27 L2218.29,166.3 L2221.29,167.34 L2224.3,168.39 L2227.3,169.45 L2230.31,170.51 L2233.32,171.58 L2236.32,172.65 L2239.33,173.74 L2242.33,174.83 L2245.34,175.92 L2248.34,177.03 L2251.35,178.14 L2254.35,179.26 L2257.36,180.39 L2260.37,181.53 L2263.37,182.67 L2266.38,183.82 L2269.38,184.98 L2272.39,186.14 L2275.39,187.32 L2278.4,188.5 L2281.4,189.69 L2284.41,190.88 L2287.42,192.09 L2290.42,193.3 L2293.43,194.52 L2296.43,195.75 L2299.44,196.99 L2302.44,198.24 L2305.45,199.49 L2308.45,200.75 L2311.46,202.03 L2314.47,203.3 L2317.47,204.59 L2320.48,205.89 L2323.48,207.19 L2326.49,208.51 L2329.49,209.83 L2332.5,211.16 L2335.51,212.5 L2338.51,213.85 L2341.52,215.21 L2344.52,216.58 L2347.53,217.95 L2350.53,219.34 L2353.54,220.73 L2356.54,222.14 L2359.55,223.55 L2362.56,224.97 L2365.56,226.4 L2368.57,227.85 L2371.57,229.3 L2374.58,230.76 L2377.58,232.23 L2380.59,233.71 L2383.59,235.2 L2386.6,236.7" fill="none" stroke="#2f5f9c" stroke-width="3" stroke-linecap="round" stroke-linejoin="round" stroke-dasharray="1.5 16" stroke-dashoffset="5.59"/>
<path d="M1541,63.7 L1545.85,63.7 L1550.69,63.71 L1555.54,63.73 L1560.39,63.74 L1565.23,63.77 L1570.08,63.8 L1574.93,63.84 L1579.77,63.88 L1584.62,63.93 L1589.47,63.98 L1594.31,64.04 L1599.16,64.1 L1604.01,64.17 L1608.85,64.24 L1613.7,64.33 L1618.55,64.41 L1623.39,64.5 L1628.24,64.6 L1633.09,64.7 L1637.93,64.81 L1642.78,64.92 L1647.63,65.04 L1652.47,65.17 L1657.32,65.3 L1662.17,65.44 L1667.01,65.58 L1671.86,65.73 L1676.71,65.88 L1681.55,66.04 L1686.3,66.2 L1689.3,66.35 L1692.31,66.51 L1695.31,66.66 L1698.31,66.82 L1701.32,66.99 L1704.32,67.16 L1707.32,67.33 L1710.33,67.5 L1713.33,67.68 L1716.33,67.87 L1719.34,68.05 L1722.34,68.24 L1725.34,68.43 L1728.35,68.63 L1731.35,68.83 L1734.35,69.03 L1737.36,69.24 L1740.36,69.45 L1743.36,69.66 L1746.37,69.88 L1749.37,70.1 L1752.37,70.32 L1755.38,70.55 L1758.38,70.78 L1761.38,71.02 L1764.39,71.26 L1767.39,71.5 L1770.39,71.74 L1773.4,71.99 L1776.4,72.25 L1779.41,72.5 L1782.41,72.76 L1785.41,73.03 L1788.42,73.3 L1791.42,73.57 L1794.42,73.84 L1797.43,74.12 L1800.43,74.4 L1803.43,74.69 L1806.44,74.98 L1809.44,75.27 L1812.44,75.57 L1815.45,75.87 L1818.45,76.18 L1821.45,76.48 L1824.46,76.8 L1827.46,77.11 L1830.46,77.43 L1833.47,77.75 L1836.47,78.08 L1839.47,78.41 L1842.48,78.75 L1845.48,79.09 L1848.48,79.43 L1851.49,79.77 L1854.49,80.12 L1857.49,80.48 L1860.5,80.84 L1863.5,81.2 L1866.5,81.56 L1869.51,81.93 L1872.51,82.3 L1875.51,82.68 L1878.52,83.06 L1881.52,83.45 L1884.52,83.83 L1887.53,84.23 L1890.53,84.62 L1893.53,85.02 L1896.54,85.43 L1899.54,85.83 L1902.54,86.25 L1905.55,86.66 L1908.55,87.08 L1911.55,87.51 L1914.56,87.93 L1917.56,88.36 L1920.56,88.8 L1923.57,89.24 L1926.57,89.68 L1929.57,90.13 L1932.58,90.58 L1935.58,91.04 L1938.58,91.5 L1941.59,91.96 L1944.59,92.43 L1947.59,92.9 L1950.6,93.38 L1953.6,93.86 L1956.61,94.34 L1959.61,94.83 L1962.61,95.32 L1965.62,95.82 L1968.62,96.32 L1971.62,96.82 L1974.63,97.33 L1977.63,97.84 L1980.63,98.36 L1983.64,98.88 L1986.64,99.4 L1989.64,99.93 L1992.65,100.46 L1995.65,101 L1998.65,101.54 L2001.66,102.09 L2004.66,102.64 L2007.66,103.19 L2010.67,103.75 L2013.67,104.31 L2016.67,104.88 L2019.68,105.45 L2022.68,106.02 L2025.68,106.6 L2028.69,107.19 L2031.69,107.77 L2034.69,108.37 L2037.7,108.96 L2040.7,109.56 L2043.7,110.17 L2046.71,110.78 L2049.71,111.39 L2052.71,112.01 L2055.72,112.63 L2058.72,113.25 L2061.72,113.89 L2064.73,114.52 L2067.73,115.16 L2070.73,115.8 L2073.74,116.45 L2076.74,117.1 L2079.74,117.76 L2082.75,118.42 L2085.75,119.08 L2088.75,119.75 L2091.76,120.43 L2094.76,121.11 L2097.76,121.79 L2100.77,122.48 L2103.77,123.17 L2106.77,123.86 L2109.78,124.56 L2112.78,125.27 L2115.78,125.98 L2118.79,126.69 L2121.79,127.41 L2124.79,128.13 L2127.8,128.86 L2130.8,129.59 L2133.81,130.33 L2136.81,131.07 L2139.81,131.81 L2142.82,132.56 L2145.82,133.32 L2148.82,134.08 L2151.83,134.84 L2154.83,135.61 L2157.83,136.38 L2160.84,137.16 L2163.84,137.94 L2166.84,138.72 L2169.85,139.51 L2172.85,140.31 L2175.85,141.11 L2178.86,141.91 L2181.86,142.72 L2184.86,143.54 L2187.87,144.35 L2190.87,145.18 L2193.87,146 L2196.88,146.84 L2199.88,147.67 L2202.88,148.51 L2205.89,149.36 L2208.89,150.21 L2211.89,151.07 L2214.9,151.93 L2217.9,152.79 L2220.9,153.66 L2223.91,154.53 L2226.91,155.41 L2229.91,156.3 L2232.92,157.19 L2235.92,158.08 L2238.92,158.98 L2241.93,159.88 L2244.93,160.79 L2247.93,161.7 L2250.94,162.61 L2253.94,163.54 L2256.94,164.46 L2259.95,165.39 L2262.95,166.33 L2265.95,167.27 L2268.96,168.22 L2271.96,169.17 L2274.96,170.12 L2277.97,171.08 L2280.97,172.05 L2283.97,173.02 L2286.98,173.99 L2289.98,174.97 L2292.98,175.96 L2295.99,176.94 L2298.99,177.94 L2301.99,178.94 L2305,179.94 L2308,180.95 L2311.01,181.96 L2314.01,182.98 L2317.01,184.01 L2320.02,185.04 L2323.02,186.07 L2326.02,187.11 L2329.03,188.15 L2332.03,189.2 L2335.03,190.25 L2338.04,191.31 L2341.04,192.37 L2344.04,193.44 L2347.05,194.52 L2350.05,195.59 L2353.05,196.68 L2356.06,197.77 L2359.06,198.86 L2362.06,199.96 L2365.07,201.06 L2368.07,202.17 L2371.07,203.28 L2374.08,204.4 L2377.08,205.53 L2380.08,206.65 L2383.09,207.79 L2386.09,208.93 L2389.09,210.07 L2392.1,211.22 L2395.1,212.38" fill="none" stroke="#4a9478" stroke-width="2.8" stroke-linecap="butt" stroke-linejoin="round" stroke-dasharray="17.5 8 3 8" stroke-dashoffset="21.34"/>
<rect x="1542.5" y="36.8" width="196.8" height="56.2" fill="none" stroke="#e2a987" stroke-width="1.6"/>
<line x1="1700.5" y1="93" x2="1700.5" y2="352" stroke="#d6a384" stroke-width="1.3" />
<polygon points="1695.4,350.7 1700.5,370.8 1705.6,350.7" fill="#e8792b"/>
<rect x="1541" y="1.3" width="945" height="759.7" fill="none" stroke="#1c1c1c" stroke-width="2.7"/>
<text x="1541" y="820.2" font-size="45" text-anchor="middle" >0</text>
<line x1="1686.4" y1="761" x2="1686.4" y2="750.5" stroke="#1c1c1c" stroke-width="2.7" />
<text x="1686.4" y="820.2" font-size="45" text-anchor="middle" >0.2</text>
<line x1="1831.8" y1="761" x2="1831.8" y2="750.5" stroke="#1c1c1c" stroke-width="2.7" />
<text x="1831.8" y="820.2" font-size="45" text-anchor="middle" >0.4</text>
<line x1="1977.2" y1="761" x2="1977.2" y2="750.5" stroke="#1c1c1c" stroke-width="2.7" />
<text x="1977.2" y="820.2" font-size="45" text-anchor="middle" >0.6</text>
<line x1="2122.6" y1="761" x2="2122.6" y2="750.5" stroke="#1c1c1c" stroke-width="2.7" />
<text x="2122.6" y="820.2" font-size="45" text-anchor="middle" >0.8</text>
<line x1="2268" y1="761" x2="2268" y2="750.5" stroke="#1c1c1c" stroke-width="2.7" />
<text x="2268" y="820.2" font-size="45" text-anchor="middle" >1.0</text>
<line x1="2413.4" y1="761" x2="2413.4" y2="750.5" stroke="#1c1c1c" stroke-width="2.7" />
<text x="2413.4" y="820.2" font-size="45" text-anchor="middle" >1.2</text>
<line x1="1541" y1="63.7" x2="1551.5" y2="63.7" stroke="#1c1c1c" stroke-width="2.7" />
<text x="1525.5" y="75.6" font-size="45" text-anchor="end" >0</text>
<line x1="1541" y1="190.3" x2="1551.5" y2="190.3" stroke="#1c1c1c" stroke-width="2.7" />
<text x="1525.5" y="202.2" font-size="45" text-anchor="end" >0.05</text>
<line x1="1541" y1="316.9" x2="1551.5" y2="316.9" stroke="#1c1c1c" stroke-width="2.7" />
<text x="1525.5" y="328.8" font-size="45" text-anchor="end" >0.10</text>
<line x1="1541" y1="443.5" x2="1551.5" y2="443.5" stroke="#1c1c1c" stroke-width="2.7" />
<text x="1525.5" y="455.4" font-size="45" text-anchor="end" >0.15</text>
<line x1="1541" y1="570.1" x2="1551.5" y2="570.1" stroke="#1c1c1c" stroke-width="2.7" />
<text x="1525.5" y="582" font-size="45" text-anchor="end" >0.20</text>
<line x1="1541" y1="696.7" x2="1551.5" y2="696.7" stroke="#1c1c1c" stroke-width="2.7" />
<text x="1525.5" y="708.6" font-size="45" text-anchor="end" >0.25</text>
<text x="2013.5" y="867" font-size="44.5" text-anchor="middle" >Horizontal distance/m</text>
<text transform="translate(1420.2,380.1) rotate(-90)" font-size="44.5" text-anchor="middle">Vertical distance/m</text>
<text x="2449" y="44.5" font-size="44" text-anchor="middle" >(b)</text>
<path d="M2040,479 L2129.7,479" fill="none" stroke="#4a4a4a" stroke-width="2.6" stroke-linecap="butt" stroke-linejoin="round" />
<text x="2136.5" y="491" font-size="33.4"><tspan font-style="italic">d</tspan>=0.2 mm</text>
<path d="M2040,527.1 L2114.2,527.1" fill="none" stroke="#c8414f" stroke-width="2.6" stroke-linecap="butt" stroke-linejoin="round" stroke-dasharray="14.8 14.7" />
<text x="2136.5" y="539" font-size="33.4"><tspan font-style="italic">d</tspan>=0.3 mm</text>
<path d="M2040.5,575.7 L2114.3,575.7" fill="none" stroke="#2f5f9c" stroke-width="3" stroke-linecap="round" stroke-linejoin="round" stroke-dasharray="1.5 16.1" />
<text x="2136.5" y="587" font-size="33.4"><tspan font-style="italic">d</tspan>=0.4 mm</text>
<path d="M2040,624.6 L2129.7,624.6" fill="none" stroke="#4a9478" stroke-width="2.8" stroke-linecap="butt" stroke-linejoin="round" stroke-dasharray="16.5 9.2 3 9.2" />
<text x="2136.5" y="635" font-size="33.4"><tspan font-style="italic">d</tspan>=0.5 mm</text>
<rect x="1671.2" y="392" width="338.7" height="254" fill="#fff" stroke="none"/>
<clipPath id="cj"><rect x="1671.2" y="392" width="338.7" height="254"/></clipPath>
<g clip-path="url(#cj)">
<path d="M1671.2,477.4 C1680.61,477.54 1708.83,477.54 1727.65,478.25 C1746.47,478.95 1765.28,480.08 1784.1,481.64 C1802.92,483.19 1821.73,485.17 1840.55,487.57 C1859.37,489.97 1883.83,492.71 1897,496.04 C1910.17,499.38 1910.92,502.4 1919.58,507.57 C1928.24,512.74 1940.84,521.64 1948.93,527.06 C1957.03,532.49 1957.97,533.7 1968.13,540.12 C1978.29,546.53 2002.94,561.3 2009.9,565.54" fill="none" stroke="#4a4a4a" stroke-width="2.2" stroke-linecap="butt" stroke-linejoin="round" />
<path d="M1671.2,477.4 C1680.61,477.54 1708.83,477.54 1727.65,478.25 C1746.47,478.95 1765.28,480.08 1784.1,481.64 C1802.92,483.19 1821.73,485.17 1840.55,487.57 C1859.37,489.97 1883.83,493.56 1897,496.04 C1910.17,498.53 1911.3,499.94 1919.58,502.49 C1927.86,505.03 1938.96,508.28 1946.68,511.3 C1954.39,514.32 1959.1,517.51 1965.87,520.62 C1972.64,523.73 1979.98,526.81 1987.32,529.94 C1994.66,533.08 2006.14,537.86 2009.9,539.44" fill="none" stroke="#c8414f" stroke-width="2.2" stroke-linecap="butt" stroke-linejoin="round" stroke-dasharray="8 6" />
<path d="M1671.2,477.4 C1680.61,477.54 1708.83,477.54 1727.65,478.25 C1746.47,478.95 1765.28,480.08 1784.1,481.64 C1802.92,483.19 1821.73,485.17 1840.55,487.57 C1859.37,489.97 1883.83,494.07 1897,496.04 C1910.17,498.02 1910.17,496.89 1919.58,499.44 C1928.99,501.98 1943.29,507.91 1953.45,511.3 C1963.61,514.69 1971.14,516.67 1980.55,519.77 C1989.95,522.88 2005.01,528.25 2009.9,529.94" fill="none" stroke="#2f5f9c" stroke-width="2.6" stroke-linecap="round" stroke-linejoin="round" stroke-dasharray="0.01 6" />
<path d="M1671.2,477.4 C1680.61,477.54 1708.83,477.54 1727.65,478.25 C1746.47,478.95 1765.28,480.08 1784.1,481.64 C1802.92,483.19 1821.73,485.17 1840.55,487.57 C1859.37,489.97 1885.71,494.52 1897,496.04 C1908.29,497.57 1902.64,495.59 1908.29,496.72 C1913.93,497.85 1922.59,500.48 1930.87,502.82 C1939.15,505.17 1947.99,507.68 1957.97,510.79 C1967.94,513.9 1982.05,518.96 1990.71,521.47 C1999.36,523.98 2006.7,525.14 2009.9,525.88" fill="none" stroke="#4a9478" stroke-width="2.4" stroke-linecap="butt" stroke-linejoin="round" stroke-dasharray="10 5 2 5" />
<line x1="1897" y1="392" x2="1897" y2="646" stroke="#8fc3c8" stroke-width="1.8" />
</g>
<rect x="1671.2" y="392" width="338.7" height="254" fill="none" stroke="#1c1c1c" stroke-width="2.1"/>
<line x1="1784.1" y1="646" x2="1784.1" y2="641.5" stroke="#1c1c1c" stroke-width="1.6" />
<line x1="1897" y1="646" x2="1897" y2="641.5" stroke="#1c1c1c" stroke-width="1.6" />
<line x1="1727.65" y1="646" x2="1727.65" y2="643.5" stroke="#1c1c1c" stroke-width="1.6" />
<line x1="1840.55" y1="646" x2="1840.55" y2="643.5" stroke="#1c1c1c" stroke-width="1.6" />
<line x1="1953.45" y1="646" x2="1953.45" y2="643.5" stroke="#1c1c1c" stroke-width="1.6" />
<line x1="1671.2" y1="477.4" x2="1675.7" y2="477.4" stroke="#1c1c1c" stroke-width="1.6" />
<line x1="1671.2" y1="562.15" x2="1675.7" y2="562.15" stroke="#1c1c1c" stroke-width="1.6" />
<line x1="1671.2" y1="435.02" x2="1673.7" y2="435.02" stroke="#1c1c1c" stroke-width="1.6" />
<line x1="1671.2" y1="519.77" x2="1673.7" y2="519.77" stroke="#1c1c1c" stroke-width="1.6" />
<line x1="1671.2" y1="604.52" x2="1673.7" y2="604.52" stroke="#1c1c1c" stroke-width="1.6" />
<text x="1658" y="400.85" font-size="28" text-anchor="end" >−0.005</text>
<text x="1658" y="485.6" font-size="28" text-anchor="end" >0</text>
<text x="1658" y="570.35" font-size="28" text-anchor="end" >0.005</text>
<text x="1658" y="653.9" font-size="28" text-anchor="end" >0.010</text>
<text x="1671.2" y="678.4" font-size="28" text-anchor="middle" >0</text>
<text x="1784.1" y="678.4" font-size="28" text-anchor="middle" >0.1</text>
<text x="1897" y="678.4" font-size="28" text-anchor="middle" >0.2</text>
<text x="2009.9" y="678.4" font-size="28" text-anchor="middle" >0.3</text>
<text x="1839.8" y="711.8" font-size="28" text-anchor="middle" >Horizontal distance/m</text>
<text transform="translate(1581.3,519.7) rotate(-90)" font-size="28" text-anchor="middle">Vertical distance/m</text>
<text x="1813.2" y="594.2" font-size="28" text-anchor="middle" >Location of</text>
<text x="1812.8" y="626.9" font-size="28" text-anchor="middle" >water curtain</text>
</svg>
</body></html>
